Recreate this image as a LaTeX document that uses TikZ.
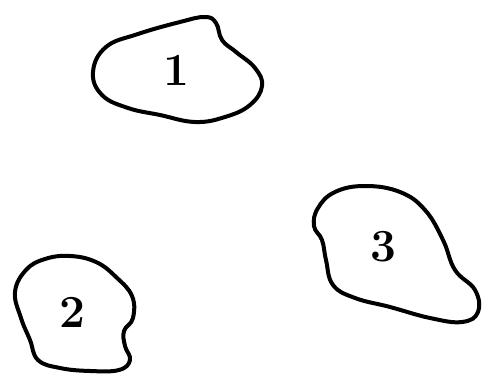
\documentclass[tikz,border=0pt]{standalone}
\usepackage{fontspec}
\usepackage{tikz}
\usetikzlibrary{calc}
\begin{document}
\begin{tikzpicture}[x=1pt,y=-1pt,
    blob/.style={line width=4pt,line join=round,tension=0.7},
    lbl/.style={font=\fontsize{46}{46}\selectfont\bfseries}]
  \useasboundingbox (0,0) rectangle (482,374);
  % region 1
  \draw[blob] plot[smooth cycle] coordinates {(93,72) (106,47) (138,34) (180,22) (205,17) (216,23) (222,40) (236,52) (255,68) (262,86) (250,105) (225,117) (195,122) (160,115) (128,108) (102,95)};
  % region 2
  \draw[blob] plot[smooth cycle] coordinates {(15,292) (26,270) (45,259) (70,256) (96,262) (116,277) (132,296) (133,318) (124,331) (125,346) (130,360) (119,370) (90,371) (60,368) (38,360) (30,340) (21,318)};
  % region 3
  \draw[blob] plot[smooth cycle] coordinates {(318,208) (335,192) (365,186) (400,192) (425,210) (443,240) (455,270) (475,290) (478,312) (462,322) (430,318) (390,307) (355,298) (333,285) (326,260) (322,240) (314,226)};
  \foreach \x/\y/\s in {176/70/1,72/312/2,383/247/3}{
    \node[lbl] (r\s) at (\x,\y) {\s};
  }
\end{tikzpicture}
\end{document}
